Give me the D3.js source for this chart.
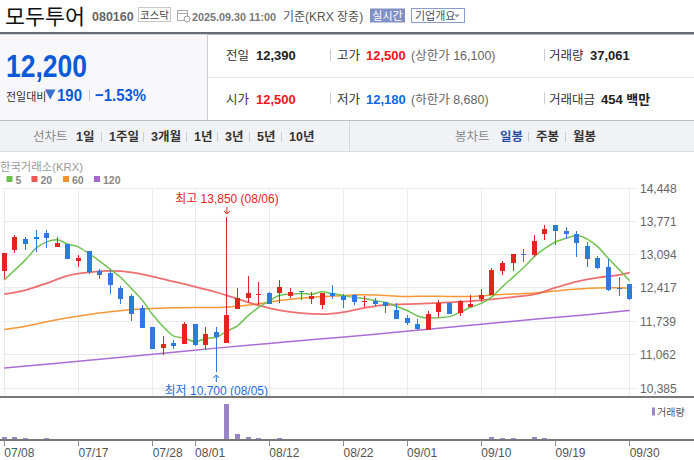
<!DOCTYPE html>
<html>
<head>
<meta charset="utf-8">
<script src="https://cdn.jsdelivr.net/npm/d3@7"></script>
<style>
  html, body { margin: 0; padding: 0; background: #fff; }
  svg { display: block; font-family: 'Liberation Sans', 'Noto Sans CJK KR', sans-serif; }
</style>
</head>
<body>
<div id="chart"></div>
<script>
// 거래일 (07/08 ~ 09/30, 08/15 휴장)
const dates = [
  '07/08','07/09','07/10','07/11','07/14','07/15','07/16','07/17','07/18','07/21',
  '07/22','07/23','07/24','07/25','07/28','07/29','07/30','07/31','08/01','08/04',
  '08/05','08/06','08/07','08/08','08/11','08/12','08/13','08/14','08/18','08/19',
  '08/20','08/21','08/22','08/25','08/26','08/27','08/28','08/29','09/01','09/02',
  '09/03','09/04','09/05','09/08','09/09','09/10','09/11','09/12','09/15','09/16',
  '09/17','09/18','09/19','09/22','09/23','09/24','09/25','09/26','09/29','09/30'
];

const opens = [
  12770,13180,13420,13460,13540,13240,13315,12955,13170,12770,
  12725,12415,12255,12010,11620,11200,11300,11280,11680,11260,
  11515,11305,11990,12210,12285,12305,12310,12250,12360,12190,
  12080,12305,12255,12270,12145,12150,12130,11960,11800,11680,
  11570,11925,12115,11915,12030,12200,12275,12765,12915,13110,
  13090,13505,13705,13580,13520,13275,13030,12845,12425,12500
];
const highs = [
  13130,13500,13460,13590,13600,13460,13315,13090,13175,12805,
  12780,12455,12295,12070,11620,11435,11355,11720,11680,11620,
  11625,13850,12410,12665,12545,12345,12585,12425,12365,12345,
  12325,12485,12290,12290,12245,12210,12130,12110,11860,11780,
  11950,12170,12115,12170,12275,12395,12825,12970,13110,13200,
  13500,13705,13705,13660,13580,13350,13070,13010,12635,12500
];
const lows = [
  12600,13120,13180,13140,13220,13240,13015,12850,12695,12595,
  12300,12085,11750,11605,11180,11050,11180,11280,11240,11155,
  10700,11305,11985,12115,12080,12090,12115,12210,12170,12090,
  11990,12190,12020,12080,12040,12060,11905,11785,11660,11570,
  11570,11825,11890,11850,12030,12125,12275,12680,12765,12950,
  13045,13385,13300,13410,13055,12850,12800,12360,12260,12180
];
const closes = [
  13130,13460,13320,13420,13440,13335,13015,13030,12745,12690,
  12485,12200,11890,11605,11180,11275,11245,11680,11265,11475,
  11415,11870,12215,12305,12300,12090,12445,12345,12335,12245,
  12325,12245,12170,12125,12150,12100,12060,11785,11705,11585,
  11880,12115,11890,12145,12095,12275,12785,12920,13110,13080,
  13375,13620,13565,13505,13340,13015,12830,12385,12390,12200
];
const volumes = [
  150000,150000,100000,50000,100000,50000,50000,50000,50000,50000,
  50000,50000,50000,50000,50000,50000,12000,50000,50000,12000,
  50000,1800000,300000,150000,100000,50000,100000,50000,50000,50000,
  50000,50000,50000,50000,50000,50000,50000,50000,12000,12000,
  12000,12000,12000,50000,12000,50000,150000,100000,100000,50000,
  150000,100000,50000,50000,50000,50000,50000,50000,50000,37061
];

// 이동평균선
const ma5 = [
  12580,12784,12988,13226,13354,13395,13306,13248,13113,12963,
  12793,12630,12402,12174,11872,11630,11439,11397,11329,11388,
  11416,11541,11648,11856,12021,12156,12271,12297,12303,12292,
  12339,12299,12264,12222,12203,12158,12121,12044,11960,11847,
  11803,11814,11835,11923,12025,12104,12238,12444,12637,12834,
  13054,13221,13350,13429,13481,13409,13251,13015,12792,12564
];
const maDays = [
  '07/08','07/10','07/14','07/16','07/18','07/22','07/24','07/28','07/30','08/01',
  '08/05','08/07','08/11','08/13','08/18','08/20','08/22','08/26','08/28','09/01',
  '09/03','09/05','09/09','09/11','09/15','09/17','09/19','09/23','09/25','09/29','09/30'
];
const ma20 = [
  12294,12375,12512,12668,12736,12763,12736,12648,12546,12443,
  12330,12196,12062,11961,11907,11887,11928,12015,12075,12089,
  12103,12124,12151,12185,12232,12287,12423,12546,12627,12682,12729
];
const ma60 = [
  11572,11640,11729,11810,11879,11933,11981,12001,12015,12022,
  12020,12048,12095,12162,12209,12243,12263,12277,12263,12243,
  12250,12245,12246,12273,12294,12314,12355,12396,12418,12420,12409
];
const ma120Days = ['07/08','07/15','07/22','07/29','08/05','08/12','08/20','08/27','09/03','09/10','09/17','09/24','09/30'];
const ma120 = [10790,10890,10990,11090,11195,11290,11385,11475,11580,11680,11780,11875,11960];

const yTicks = [10385, 11062, 11739, 12417, 13094, 13771, 14448];
const xTicks = ['07/08','07/17','07/28','08/01','08/12','08/22','09/01','09/10','09/19','09/30'];

const maNames = ['5', '20', '60', '120'];
const maColors = ['#6cc04a', '#ec5757', '#f5922b', '#a566d3'];

const UP = '#e2261f', DOWN = '#2f7ae0';

const svg = d3.select('#chart').append('svg')
  .attr('width', 694).attr('height', 460);

function text(g, x, y, s, o = {}) {
  const t = g.append('text')
    .attr('x', x).attr('y', y)
    .attr('font-size', o.size || 12)
    .attr('fill', o.color || '#333')
    .attr('text-anchor', o.anchor || 'start')
    .text(s);
  if (o.bold) t.attr('font-weight', 'bold');
  if (o.len) t.attr('textLength', o.len).attr('lengthAdjust', 'spacingAndGlyphs');
  return t;
}

// ---- 상단 종목 정보 ----
const head = svg.append('g');
text(head, 5, 24, '모두투어', { size: 21, color: '#111', len: 80 }).style('font-family', "'Noto Sans CJK KR'");
text(head, 92, 21, '080160', { size: 12.5, bold: true, color: '#666' });
head.append('rect').attr('x', 138.5).attr('y', 7.5).attr('width', 32).attr('height', 14)
  .attr('fill', '#fff').attr('stroke', '#c8c8c8');
text(head, 154.5, 18.5, '코스닥', { size: 10.5, color: '#444', anchor: 'middle' });
// 달력 아이콘
head.append('rect').attr('x', 177.5).attr('y', 10.5).attr('width', 10).attr('height', 10)
  .attr('fill', 'none').attr('stroke', '#aaa');
head.append('line').attr('x1', 177.5).attr('x2', 187.5).attr('y1', 13.5).attr('y2', 13.5).attr('stroke', '#aaa');
head.append('circle').attr('cx', 187).attr('cy', 19).attr('r', 3).attr('fill', '#fff').attr('stroke', '#999');
text(head, 192, 20.5, '2025.09.30 11:00', { size: 11.5, bold: true, color: '#777', len: 84 });
text(head, 283, 20.5, '기준(KRX 장중)', { size: 12, color: '#555' });
head.append('rect').attr('x', 370).attr('y', 8.5).attr('width', 35).attr('height', 14)
  .attr('fill', '#8190c4');
text(head, 387.5, 19.5, '실시간', { size: 11, color: '#fff', anchor: 'middle' });
head.append('rect').attr('x', 411.5).attr('y', 8.5).attr('width', 53).attr('height', 14)
  .attr('fill', '#fff').attr('stroke', '#8b9bcf');
text(head, 415, 19.5, '기업개요', { size: 11, color: '#4a4f66' });
head.append('path').attr('d', 'M454,14.5 L460,14.5 L457,17.5 Z').attr('fill', '#999');

head.append('rect').attr('x', 0).attr('y', 32).attr('width', 694).attr('height', 2.5).attr('fill', '#676b74');

// ---- 시세 영역 ----
const quote = svg.append('g');
quote.append('rect').attr('x', 0).attr('y', 34.5).attr('width', 207).attr('height', 85.5).attr('fill', '#f8f8fa');
quote.append('line').attr('x1', 207.5).attr('x2', 207.5).attr('y1', 34.5).attr('y2', 120).attr('stroke', '#cfcfcf');
quote.append('line').attr('x1', 208).attr('x2', 694).attr('y1', 77.5).attr('y2', 77.5).attr('stroke', '#e6e6e6');
quote.append('line').attr('x1', 0).attr('x2', 694).attr('y1', 120.5).attr('y2', 120.5).attr('stroke', '#bfbfbf');

text(quote, 6, 77, '12,200', { size: 31, bold: true, color: '#0b5ad9', len: 81 });
text(quote, 6, 100.5, '전일대비', { size: 11, color: '#333' });
quote.append('path').attr('d', 'M45,89.5 L55.5,89.5 L50.25,99.5 Z').attr('fill', '#3c6fcc');
text(quote, 57, 100.5, '190', { size: 17, bold: true, color: '#0b5ad9', len: 25 });
quote.append('line').attr('x1', 89.5).attr('x2', 89.5).attr('y1', 90).attr('y2', 101).attr('stroke', '#ccc');
text(quote, 95, 100.5, '−1.53%', { size: 17, bold: true, color: '#0b5ad9', len: 51 });

const rows = [
  { y: 60, items: [
    ['전일', '12,390', '#222', ''], ['고가', '12,500', '#f1131b', '(상한가 16,100)'], ['거래량', '37,061', '#222', '']
  ]},
  { y: 103.5, items: [
    ['시가', '12,500', '#f1131b', ''], ['저가', '12,180', '#0b6be0', '(하한가 8,680)'], ['거래대금', '454 백만', '#222', '']
  ]}
];
const colX = [[226, 256], [337, 366], [549, 0]];
rows.forEach(r => {
  r.items.forEach((it, i) => {
    text(quote, colX[i][0], r.y, it[0], { size: 12.5, color: '#333' });
    const vx = i === 2 ? (it[0] === '거래량' ? 590 : 601) : colX[i][1];
    text(quote, vx, r.y, it[1], { size: 13, bold: true, color: it[2] });
    if (it[3]) text(quote, 411, r.y, it[3], { size: 12.5, color: '#666' });
  });
  [330.5, 544.5].forEach(sx => quote.append('line')
    .attr('x1', sx).attr('x2', sx).attr('y1', r.y - 11).attr('y2', r.y + 1).attr('stroke', '#ccc'));
});

// ---- 탭 영역 ----
const tabs = svg.append('g');
tabs.append('rect').attr('x', 0).attr('y', 121).attr('width', 694).attr('height', 30).attr('fill', '#f1f2f5');
tabs.append('line').attr('x1', 349.5).attr('x2', 349.5).attr('y1', 121).attr('y2', 151).attr('stroke', '#d6d6d6');
text(tabs, 33, 141, '선차트', { size: 12.5, color: '#888' });
const lineTabs = [['1일', 76], ['1주일', 109], ['3개월', 151], ['1년', 194], ['3년', 225], ['5년', 257], ['10년', 289]];
lineTabs.forEach((t, i) => {
  text(tabs, t[1], 141, t[0], { size: 12.5, bold: true, color: '#333' });
  if (i > 0) tabs.append('line').attr('x1', t[1] - 7.5).attr('x2', t[1] - 7.5)
    .attr('y1', 132).attr('y2', 142).attr('stroke', '#ccc');
});
text(tabs, 455, 141, '봉차트', { size: 12.5, color: '#888' });
const candleTabs = [['일봉', 500, '#2b4ea6'], ['주봉', 536, '#333'], ['월봉', 573, '#333']];
candleTabs.forEach((t, i) => {
  text(tabs, t[1], 141, t[0], { size: 12.5, bold: true, color: t[2] });
  if (i > 0) tabs.append('line').attr('x1', t[1] - 7.5).attr('x2', t[1] - 7.5)
    .attr('y1', 132).attr('y2', 142).attr('stroke', '#ccc');
});
svg.append('line').attr('x1', 0).attr('x2', 694).attr('y1', 151.5).attr('y2', 151.5).attr('stroke', '#dcdcdc');

// ---- 차트 ----
const x = d3.scalePoint().domain(dates).range([4.3, 629.7]);
const y = d3.scaleLinear().domain([10385, 14448]).range([388, 188]);
const yVol = d3.scaleLinear().domain([0, 2000000]).range([440, 400]);

const chart = svg.append('g');
text(chart, 0, 171, '한국거래소(KRX)', { size: 11.5, color: '#9a9a9a', len: 83 });
const legendX = [6.5, 31.5, 63, 94];
maNames.forEach((n, i) => {
  chart.append('rect').attr('x', legendX[i]).attr('y', 176).attr('width', 6).attr('height', 6).attr('fill', maColors[i]);
  text(chart, legendX[i] + 9, 184, n, { size: 10.5, bold: true, color: '#888' });
});

// 격자
const grid = chart.append('g').attr('shape-rendering', 'crispEdges');
grid.selectAll('line.h').data(yTicks).enter().append('line')
  .attr('x1', 3).attr('x2', 636)
  .attr('y1', d => y(d)).attr('y2', d => y(d))
  .attr('stroke', '#ebebeb');
grid.selectAll('line.v').data(xTicks).enter().append('line')
  .attr('x1', d => x(d)).attr('x2', d => x(d))
  .attr('y1', y(14448)).attr('y2', 397)
  .attr('stroke', '#ebebeb');

// Y 축 라벨
chart.selectAll('text.ylab').data(yTicks).enter().append('text')
  .attr('x', 640).attr('y', d => y(d) + 4.5)
  .attr('font-size', 12).attr('fill', '#666')
  .text(d => d3.format(',')(d));

// 이동평균선
const line = d3.line().curve(d3.curveMonotoneX);
const maSeries = [
  dates.map((d, i) => [x(d), y(ma5[i])]),
  maDays.map((d, i) => [x(d), y(ma20[i])]),
  maDays.map((d, i) => [x(d), y(ma60[i])]),
  ma120Days.map((d, i) => [x(d), y(ma120[i])])
];
[3, 2, 1, 0].forEach(k => {
  chart.append('path')
    .attr('d', line(maSeries[k]))
    .attr('fill', 'none')
    .attr('stroke', maColors[k])
    .attr('stroke-opacity', k === 1 ? 0.85 : 0.95)
    .attr('stroke-width', k === 1 ? 1.8 : 1.5);
});

// 캔들
const candles = chart.append('g').attr('shape-rendering', 'crispEdges');
dates.forEach((d, i) => {
  const cx = x(d);
  const c = closes[i] >= opens[i] ? UP : DOWN;
  candles.append('line')
    .attr('x1', cx).attr('x2', cx)
    .attr('y1', y(highs[i])).attr('y2', y(lows[i]))
    .attr('stroke', c).attr('stroke-width', 1);
  const top = y(Math.max(opens[i], closes[i]));
  const bot = y(Math.min(opens[i], closes[i]));
  candles.append('rect')
    .attr('x', cx - 2.5).attr('width', 5)
    .attr('y', top).attr('height', Math.max(1, bot - top))
    .attr('fill', c);
});

// 최고/최저 표시
const hiIdx = highs.indexOf(d3.max(highs));
const loIdx = lows.indexOf(d3.min(lows));
const hx = x(dates[hiIdx]), lx = x(dates[loIdx]);
text(chart, hx, 203, `최고 ${d3.format(',')(highs[hiIdx])} (${dates[hiIdx]})`, { size: 12, color: '#e8231d', anchor: 'middle' });
chart.append('path').attr('d', `M${hx},207 L${hx},214 M${hx - 3},211 L${hx},214 L${hx + 3},211`)
  .attr('fill', 'none').attr('stroke', '#e8231d');
text(chart, lx, 395, `최저 ${d3.format(',')(lows[loIdx])} (${dates[loIdx]})`, { size: 12, color: '#1b6fe0', anchor: 'middle' });
chart.append('path').attr('d', `M${lx},382 L${lx},375 M${lx - 3},378 L${lx},375 L${lx + 3},378`)
  .attr('fill', 'none').attr('stroke', '#1b6fe0');

// 거래량
const vol = chart.append('g').attr('shape-rendering', 'crispEdges');
vol.selectAll('rect').data(dates).enter().append('rect')
  .attr('x', d => x(d) - 2.5).attr('width', 5)
  .attr('y', (d, i) => yVol(volumes[i]))
  .attr('height', (d, i) => 440 - yVol(volumes[i]))
  .attr('fill', '#9a86c6');
chart.append('rect').attr('x', 652).attr('y', 407.5).attr('width', 3).attr('height', 8).attr('fill', '#9a86c6');
text(chart, 657, 416, '거래량', { size: 10, color: '#555' });

// 구분선 & X 축
const axes = chart.append('g').attr('shape-rendering', 'crispEdges');
axes.append('line').attr('x1', 0).attr('x2', 694).attr('y1', 397).attr('y2', 397).attr('stroke', '#777').attr('stroke-width', 1.5);
axes.append('line').attr('x1', 0).attr('x2', 694).attr('y1', 440).attr('y2', 440).attr('stroke', '#777').attr('stroke-width', 1.5);
axes.selectAll('line.tick').data(xTicks).enter().append('line')
  .attr('x1', d => x(d)).attr('x2', d => x(d))
  .attr('y1', 440).attr('y2', 446)
  .attr('stroke', '#888');
chart.selectAll('text.xlab').data(xTicks).enter().append('text')
  .attr('x', d => x(d)).attr('y', 456.5)
  .attr('font-size', 12).attr('fill', '#555')
  .text(d => d);
</script>
</body>
</html>
